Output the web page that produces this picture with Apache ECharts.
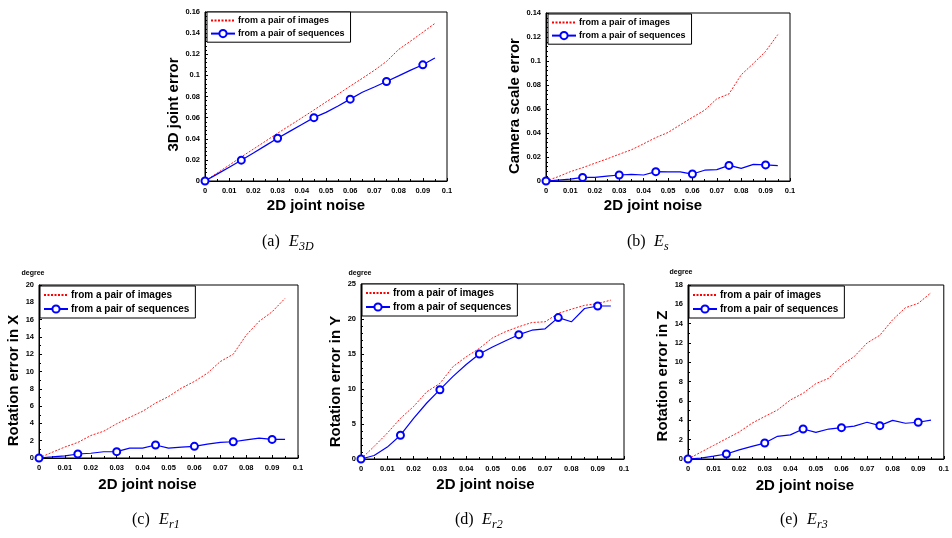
<!DOCTYPE html>
<html><head><meta charset="utf-8">
<script src="https://cdn.jsdelivr.net/npm/echarts@6/dist/echarts.min.js"></script>
<style>html,body{margin:0;padding:0;background:#fff}#c{width:952px;height:538px}</style>
</head><body><div id="c"></div>
<script>
// ---- data ----
const noise = [0,0.005,0.01,0.015,0.02,0.025,0.03,0.035,0.04,0.045,0.05,0.055,0.06,0.065,0.07,0.075,0.08,0.085,0.09,0.095];
const seriesNames = ['from a pair of images', 'from a pair of sequences'];

const e3dImages = [0,0.0075,0.015,0.0228,0.0302,0.0377,0.0452,0.0525,0.0598,0.0672,0.0748,0.0822,0.0898,0.0972,0.1048,0.1132,0.1245,0.1325,0.1408,0.1492];
const e3dSeqs   = [0,0.0065,0.013,0.0197,0.0265,0.0335,0.0405,0.047,0.0535,0.060,0.065,0.071,0.0775,0.084,0.089,0.0942,0.0995,0.105,0.110,0.1165];

const esImages = [0,0.0036,0.0078,0.0111,0.0148,0.0184,0.0223,0.026,0.031,0.0362,0.0404,0.0468,0.053,0.059,0.0685,0.0726,0.0885,0.098,0.108,0.122];
const esSeqs   = [0,0.0008,0.0015,0.003,0.003,0.004,0.005,0.0055,0.005,0.0078,0.0076,0.0076,0.0058,0.009,0.0095,0.013,0.0105,0.0138,0.0134,0.0128];

const er1Images = [0,0.65,1.27,1.8,2.6,3.1,3.96,4.7,5.4,6.35,7.1,8.08,8.85,9.8,11.15,12.0,14.2,15.8,16.9,18.46];
const er1Seqs   = [0,0.12,0.25,0.46,0.55,0.72,0.73,1.15,1.15,1.5,1.15,1.25,1.35,1.6,1.8,1.88,2.1,2.3,2.15,2.15];

const er2Images = [0,1.8,3.7,5.8,7.5,9.6,10.8,13.2,14.6,15.8,17.3,18.2,18.9,19.5,19.6,20.8,21.4,21.95,22.2,22.7];
const er2Seqs   = [0,0.5,1.7,3.4,5.8,8.0,9.9,11.8,13.5,15.0,16.0,16.9,17.76,18.4,18.6,20.2,19.6,21.5,21.86,21.86];

const er3Images = [0,0.7,1.4,2.1,2.8,3.7,4.4,5.07,6.1,6.8,7.8,8.35,9.7,10.6,12.0,12.8,14.4,15.65,16.1,17.2];
const er3Seqs   = [0,0.1,0.3,0.52,0.95,1.3,1.65,2.35,2.5,3.1,2.75,3.1,3.24,3.4,3.8,3.45,4.0,3.7,3.8,4.03];

const xTicks = {min: 0, max: 0.1, interval: 0.01};
const yTicks = [
  {max: 0.16, interval: 0.02},
  {max: 0.14, interval: 0.02},
  {max: 20, interval: 2},
  {max: 25, interval: 5},
  {max: 18, interval: 2}
];
const yTitles = ['3D joint error', 'Camera scale error', 'Rotation error in X', 'Rotation error in Y', 'Rotation error in Z'];
const xTitle = '2D joint noise';
const unitLabel = 'degree';
const captions = [['(a)', 'E', '3D'], ['(b)', 'E', 's'], ['(c)', 'E', 'r1'], ['(d)', 'E', 'r2'], ['(e)', 'E', 'r3']];
const panelData = [[e3dImages, e3dSeqs], [esImages, esSeqs], [er1Images, er1Seqs], [er2Images, er2Seqs], [er3Images, er3Seqs]];

// ---- layout (positions / styles) ----
const layout = [
  {grid: {left: 205, top: 12, width: 242, height: 169}, yMinor: 5, yGap: 18, yShift: 8, xGap: 17, xShift: 10, legend: {left: 207, top: 12}, lf: 9, cap: {x: 262, y: 243}},
  {grid: {left: 546, top: 13, width: 244, height: 168}, yMinor: 5, yGap: 17, yShift: 9, xGap: 17, xShift: 15, legend: {left: 548, top: 14}, lf: 9, cap: {x: 627, y: 243}},
  {grid: {left: 39, top: 285, width: 259, height: 173}, yMinor: 2, yGap: 11, yShift: 9, xGap: 19, xShift: 21, legend: {left: 40, top: 286}, lf: 10, cap: {x: 132, y: 521}, unit: {x: 33, y: 273}},
  {grid: {left: 361, top: 284, width: 263, height: 175}, yMinor: 5, yGap: 11, yShift: 10, xGap: 18, xShift: 7, legend: {left: 362, top: 284}, lf: 10, cap: {x: 455, y: 521}, unit: {x: 360, y: 273}},
  {grid: {left: 688, top: 285, width: 258, height: 174}, yMinor: 2, yGap: 12, yShift: 4, xGap: 19, xShift: 11, legend: {left: 689, top: 286}, lf: 10, cap: {x: 780, y: 521}, unit: {x: 681, y: 272}}
];

const SANS = 'Liberation Sans, Arial, sans-serif';
const SERIF = 'Liberation Serif, Times New Roman, serif';

const grids = [], xAxes = [], yAxes = [], series = [], legends = [], graphics = [];

layout.forEach((L, i) => {
  grids.push(Object.assign({show: true, borderColor: '#000', borderWidth: 1, backgroundColor: 'transparent'}, L.grid));
  xAxes.push({
    type: 'value', gridIndex: i, min: xTicks.min, max: xTicks.max, interval: xTicks.interval,
    name: xTitle, nameLocation: 'middle', nameGap: L.xGap,
    nameTextStyle: {fontFamily: SANS, fontWeight: 'bold', fontSize: 15, color: '#000', padding: [0, 2 * L.xShift, 0, 0]},
    axisLine: {show: true, lineStyle: {color: '#000', width: 1}},
    axisTick: {show: true, inside: true, length: 3, lineStyle: {color: '#000'}},
    minorTick: {show: true, splitNumber: 2, length: 2, lineStyle: {color: '#000'}},
    splitLine: {show: false},
    axisLabel: {fontFamily: SANS, fontWeight: 'bold', fontSize: 7.5, color: '#000', margin: 6, hideOverlap: false, showMaxLabel: true, showMinLabel: true}
  });
  yAxes.push({
    type: 'value', gridIndex: i, min: 0, max: yTicks[i].max, interval: yTicks[i].interval,
    name: yTitles[i], nameLocation: 'middle', nameGap: L.yGap, nameRotate: 90,
    nameTextStyle: {fontFamily: SANS, fontWeight: 'bold', fontSize: 15, color: '#000', padding: [0, 2 * L.yShift, 0, 0]},
    axisLine: {show: true, lineStyle: {color: '#000', width: 1}},
    axisTick: {show: true, inside: true, length: 3, lineStyle: {color: '#000'}},
    minorTick: {show: true, splitNumber: L.yMinor, length: 2, lineStyle: {color: '#000'}},
    splitLine: {show: false},
    axisLabel: {fontFamily: SANS, fontWeight: 'bold', fontSize: 7.5, color: '#000', margin: 5, hideOverlap: false}
  });
  const [imgVals, seqVals] = panelData[i];
  series.push({
    name: seriesNames[0], type: 'line', xAxisIndex: i, yAxisIndex: i,
    data: noise.map((x, k) => [x, imgVals[k]]),
    symbol: 'none', color: '#ff0000',
    lineStyle: {color: '#ff0000', width: 0.9, type: [2, 1.5]},
    z: 3
  });
  series.push({
    name: seriesNames[1], type: 'line', xAxisIndex: i, yAxisIndex: i,
    data: noise.map((x, k) => (k % 3 === 0) ? {value: [x, seqVals[k]]} : {value: [x, seqVals[k]], symbol: 'none'}),
    symbol: 'emptyCircle', symbolSize: 7, showAllSymbol: true, color: '#0000ff',
    itemStyle: {color: '#0000ff', borderColor: '#0000ff', borderWidth: 1},
    lineStyle: {color: '#0000ff', width: 1.2},
    z: 4
  });
  legends.push({
    data: [
      {name: seriesNames[0], itemStyle: {opacity: 0}},
      {name: seriesNames[1]}
    ],
    orient: 'vertical', left: L.legend.left, top: L.legend.top,
    backgroundColor: '#fff', borderColor: '#000', borderWidth: 1, borderRadius: 0,
    padding: [4, 6, 4, 3], itemGap: 4, itemWidth: 24, itemHeight: 9,
    textStyle: {fontFamily: SANS, fontWeight: 'bold', fontSize: L.lf, color: '#000', padding: [0, 0, 0, -2]},
    selectedMode: false
  });
  const c = captions[i];
  graphics.push({type: 'text', left: L.cap.x, top: L.cap.y - 9, style: {text: c[0], font: '16px ' + SERIF, fill: '#000'}});
  graphics.push({type: 'text', left: L.cap.x + 27, top: L.cap.y - 9, style: {text: c[1], font: 'italic 16px ' + SERIF, fill: '#000'}});
  graphics.push({type: 'text', left: L.cap.x + 37, top: L.cap.y - 2, style: {text: c[2], font: 'italic 12px ' + SERIF, fill: '#000'}});
  if (L.unit) {
    graphics.push({type: 'text', x: L.unit.x, y: L.unit.y, style: {text: unitLabel, font: 'bold 7px ' + SANS, fill: '#000', align: 'center', verticalAlign: 'middle'}});
  }
});

const chart = echarts.init(document.getElementById('c'), null, {renderer: 'canvas'});
chart.setOption({
  animation: false,
  backgroundColor: '#fff',
  grid: grids, xAxis: xAxes, yAxis: yAxes, series: series, legend: legends, graphic: graphics
});
</script>
</body></html>
